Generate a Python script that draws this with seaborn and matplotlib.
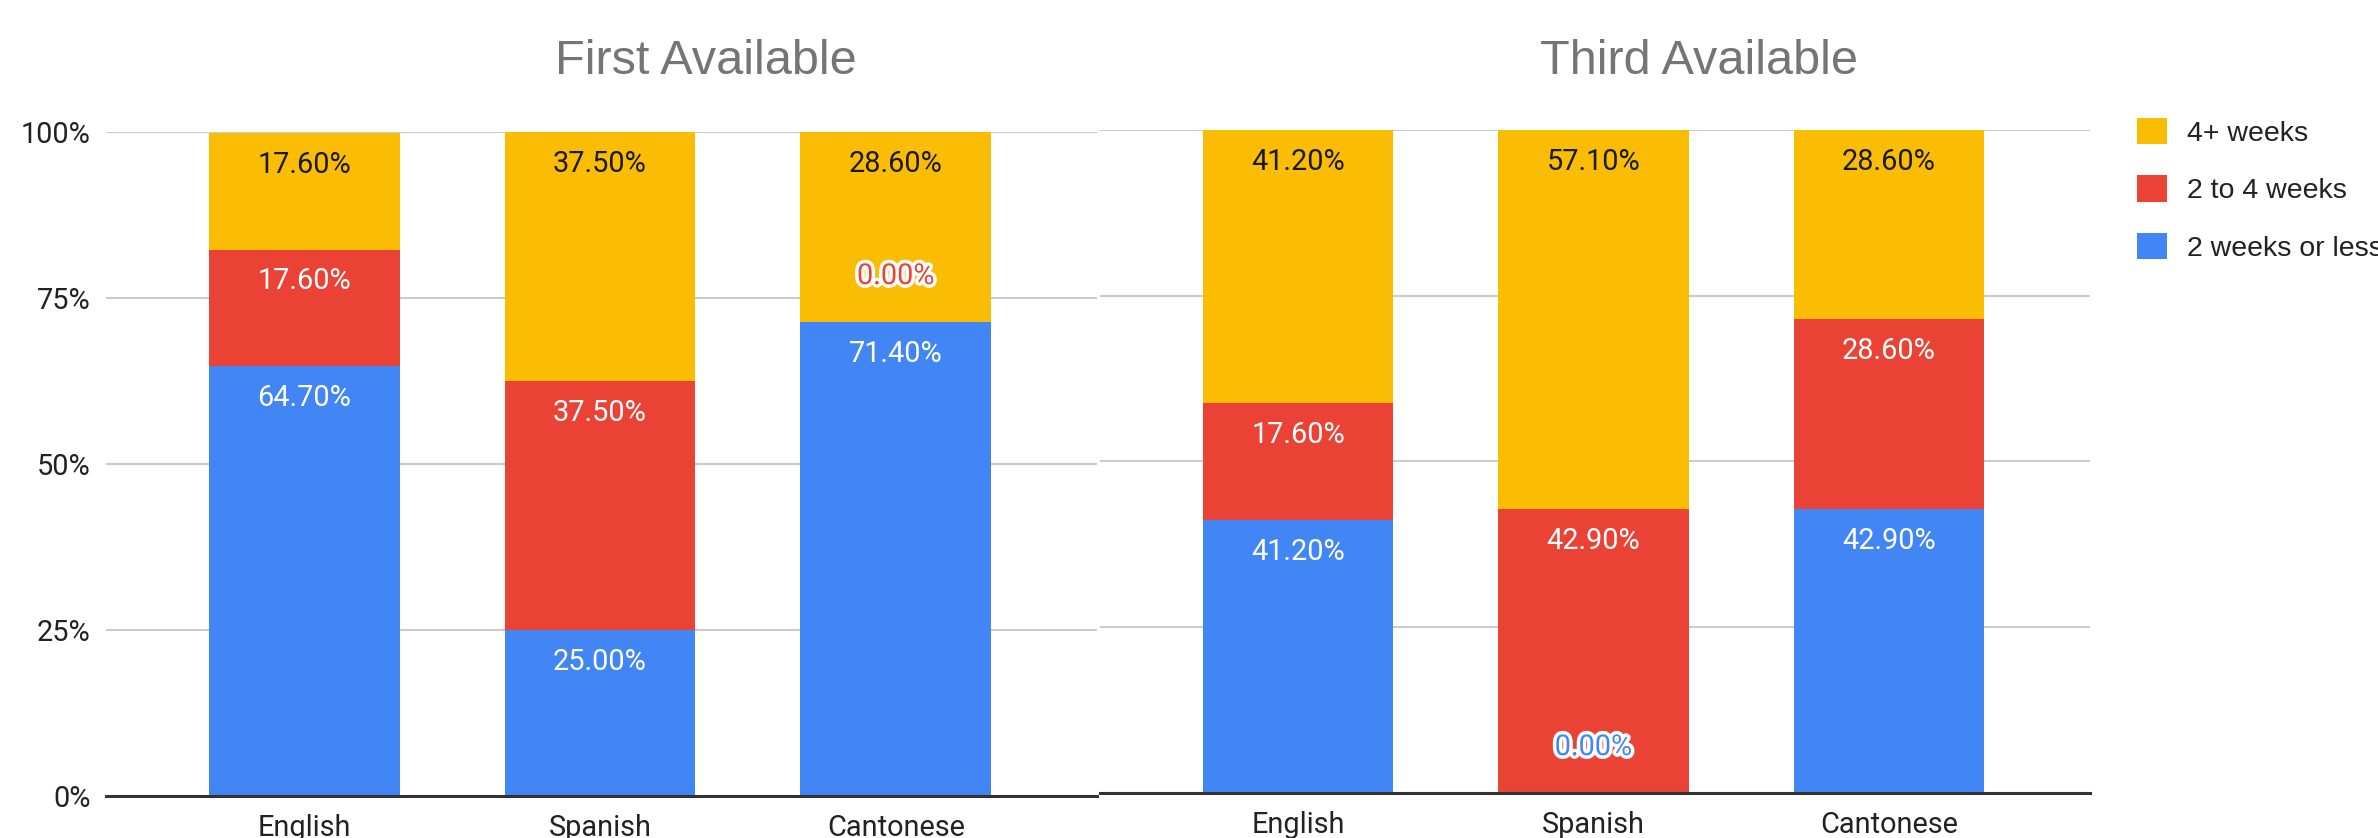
import matplotlib
matplotlib.use("Agg")
import matplotlib.pyplot as plt
import matplotlib.patheffects as pe
from matplotlib.patches import Patch
import seaborn as sns
import pandas as pd

# ---------------- data ----------------
languages = ["English", "Spanish", "Cantonese"]
series = ["2 weeks or less", "2 to 4 weeks", "4+ weeks"]

first_less2 = [64.7, 25.0, 71.4]
first_2to4 = [17.6, 37.5, 0.0]
first_4plus = [17.6, 37.5, 28.6]

third_less2 = [41.2, 0.0, 42.9]
third_2to4 = [17.6, 42.9, 28.6]
third_4plus = [41.2, 57.1, 28.6]

panel_titles = ["First Available", "Third Available"]
y_ticks = [0, 25, 50, 75, 100]
y_tick_labels = ["0%", "25%", "50%", "75%", "100%"]

# ---------------- style ----------------
colors = {"2 weeks or less": "#4285F4", "2 to 4 weeks": "#EA4335", "4+ weeks": "#FBBC04"}
label_colors = {"2 weeks or less": "#FFFFFF", "2 to 4 weeks": "#FFFFFF", "4+ weeks": "#1A1A1A"}

sns.set_style("white")
plt.rcParams["font.family"] = ["Roboto", "DejaVu Sans"]

W, H, DPI = 2378, 838, 100
fig = plt.figure(figsize=(W / DPI, H / DPI), dpi=DPI)

def px_box(x0, x1, ytop, ybot):
    return [x0 / W, 1 - ybot / H, (x1 - x0) / W, (ybot - ytop) / H]

ax1 = fig.add_axes(px_box(106, 1097, 132, 796))
ax2 = fig.add_axes(px_box(1100, 2090, 130, 793))


def draw(ax, less2, mid, plus, show_ylabels):
    df = pd.DataFrame({"language": languages,
                       "2 weeks or less": less2,
                       "2 to 4 weeks": mid,
                       "4+ weeks": plus})
    cum = df[series].cumsum(axis=1)
    plot_df = pd.concat([df[["language"]], cum.add_prefix("cum_")], axis=1)
    for s in reversed(series):
        sns.barplot(data=plot_df, x="language", y="cum_" + s, order=languages,
                    color=colors[s], saturation=1, width=0.645, ax=ax,
                    edgecolor="none", linewidth=0, zorder=2)
    # labels
    for i, lang in enumerate(languages):
        for s in series:
            val = df.loc[i, s]
            top = cum.loc[i, s]
            txt = f"{val:.2f}%"
            if val > 0:
                ax.annotate(txt, xy=(i, min(top, 100)), xytext=(0, -23),
                            textcoords="offset points", ha="center", va="center",
                            fontsize=20.8, color=label_colors[s], zorder=5)
            else:
                ax.annotate(txt, xy=(i, top), xytext=(0, 33),
                            textcoords="offset points", ha="center", va="center",
                            fontsize=20.8, color=colors[s], zorder=5,
                            path_effects=[pe.withStroke(linewidth=5, foreground="white")])

    ax.set_ylim(0, 100)
    ax.set_xlim(-0.67, 2.68)
    ax.set_yticks(y_ticks)
    if show_ylabels:
        ax.set_yticklabels(y_tick_labels)
    else:
        ax.set_yticklabels([])
    ax.set_xlabel("")
    ax.set_ylabel("")
    ax.yaxis.grid(True, color="#CCCCCC", linewidth=1.5)
    ax.xaxis.grid(False)
    ax.set_axisbelow(True)
    for sp in ["top", "left", "right"]:
        ax.spines[sp].set_visible(False)
    ax.spines["bottom"].set_color("#333333")
    ax.spines["bottom"].set_linewidth(2.2)
    ax.spines["bottom"].set_zorder(4)
    ax.tick_params(axis="y", length=0, pad=11, labelsize=20.8, labelcolor="#222222")
    ax.tick_params(axis="x", length=0, pad=13, labelsize=20.8, labelcolor="#222222")


draw(ax1, first_less2, first_2to4, first_4plus, True)
draw(ax2, third_less2, third_2to4, third_4plus, False)

fig.text(706 / W, 1 - 74 / H, panel_titles[0], ha="center", va="baseline",
         fontsize=35, color="#757575", family=["Liberation Sans", "DejaVu Sans"])
fig.text(1699 / W, 1 - 74 / H, panel_titles[1], ha="center", va="baseline",
         fontsize=35, color="#757575", family=["Liberation Sans", "DejaVu Sans"])

handles = [Patch(facecolor=colors[s], edgecolor="none") for s in reversed(series)]
leg = fig.legend(handles, list(reversed(series)), loc="upper left",
                 bbox_to_anchor=(2137 / W, 1 - 118 / H), frameon=False,
                 handlelength=1.05, handleheight=1.05, handletextpad=0.7,
                 labelspacing=1.0, borderpad=0, borderaxespad=0,
                 prop={"family": ["Liberation Sans", "DejaVu Sans"], "size": 20.5})
for t in leg.get_texts():
    t.set_color("#222222")

fig.savefig("out.png", dpi=DPI)
